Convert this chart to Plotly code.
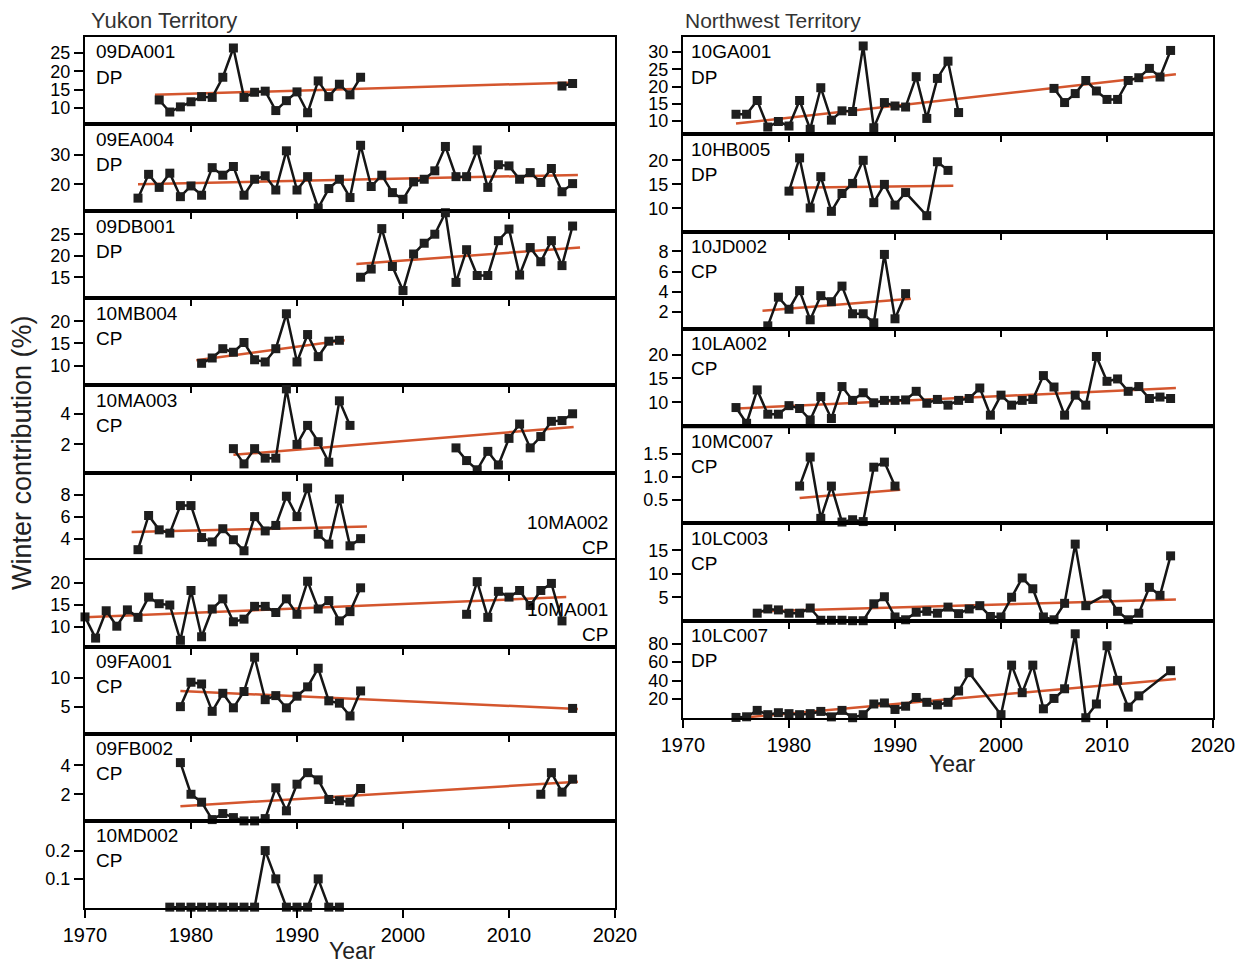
import plotly.graph_objects as go

FONT = "Liberation Sans, Arial, Helvetica, sans-serif"
W, H = 1246, 972          # target picture size
PAGE_OFF = 8              # default body margin of the html page
FW, FH = W - 2 * PAGE_OFF, H - 2 * PAGE_OFF   # figure size

# ---------------- data (None = break in the line) ----------------
yr_09DA001 = [1977, 1978, 1979, 1980, 1981, 1982, 1983, 1984, 1985, 1986, 1987, 1988, 1989, 1990,
              1991, 1992, 1993, 1994, 1995, 1996, None, 2015, 2016]
v_09DA001 = [12.2, 8.9, 10.3, 11.7, 13.1, 12.9, 18.4, 26.4, 12.9, 14.3, 14.6, 9.3, 12.0, 14.4,
             8.7, 17.4, 13.1, 16.5, 13.6, 18.4, None, 16.0, 16.7]
tr_09DA001 = ([1976.6, 2016.4], [13.6, 17.0])

yr_09EA004 = [1975, 1976, 1977, 1978, 1979, 1980, 1981, 1982, 1983, 1984, 1985, 1986, 1987, 1988,
              1989, 1990, 1991, 1992, 1993, 1994, 1995, 1996, 1997, 1998, 1999, 2000, 2001, 2002,
              2003, 2004, 2005, 2006, 2007, 2008, 2009, 2010, 2011, 2012, 2013, 2014, 2015, 2016]
v_09EA004 = [15.2, 23.4, 18.9, 23.8, 15.7, 19.4, 16.2, 25.7, 23.1, 26.1, 16.2, 21.7, 22.9, 18.0,
             31.5, 18.0, 22.6, 11.8, 18.5, 21.7, 15.4, 33.4, 19.2, 23.1, 17.1, 14.8, 20.8, 21.7,
             24.6, 33.0, 22.6, 22.6, 31.8, 18.9, 26.7, 26.3, 21.7, 24.0, 20.6, 25.4, 17.4, 20.2]
tr_09EA004 = ([1975.0, 2016.5], [20.0, 23.2])

yr_09DB001 = [1996, 1997, 1998, 1999, 2000, 2001, 2002, 2003, 2004, 2005, 2006, 2007, 2008, 2009,
              2010, 2011, 2012, 2013, 2014, 2015, 2016]
v_09DB001 = [15.0, 16.9, 26.3, 17.5, 11.9, 20.4, 22.9, 25.0, 30.0, 13.8, 21.4, 15.4, 15.4, 23.5,
             26.2, 15.5, 21.9, 18.6, 23.5, 17.7, 26.9]
tr_09DB001 = ([1995.6, 2016.7], [18.1, 21.9])

yr_10MB004 = [1981, 1982, 1983, 1984, 1985, 1986, 1987, 1988, 1989, 1990, 1991, 1992, 1993, 1994]
v_10MB004 = [10.5, 11.7, 13.8, 13.0, 15.2, 11.3, 10.8, 13.8, 21.7, 10.8, 17.0, 12.0, 15.5, 15.7]
tr_10MB004 = ([1980.5, 1994.5], [11.2, 15.7])

yr_10MA003 = [1984, 1985, 1986, 1987, 1988, 1989, 1990, 1991, 1992, 1993, 1994, 1995, None,
              2005, 2006, 2007, 2008, 2009, 2010, 2011, 2012, 2013, 2014, 2015, 2016]
v_10MA003 = [1.71, 0.70, 1.71, 1.08, 1.08, 5.67, 1.99, 3.25, 2.17, 0.81, 4.88, 3.25, None,
             1.76, 0.92, 0.31, 1.53, 0.63, 2.39, 3.34, 1.76, 2.51, 3.52, 3.57, 4.02]
tr_10MA003 = ([1984.0, 2016.1], [1.3, 3.15])

yr_10MA002 = [1975, 1976, 1977, 1978, 1979, 1980, 1981, 1982, 1983, 1984, 1985, 1986, 1987, 1988,
              1989, 1990, 1991, 1992, 1993, 1994, 1995, 1996]
v_10MA002 = [3.0, 6.1, 4.8, 4.5, 7.0, 7.0, 4.1, 3.7, 4.9, 3.9, 2.9, 6.0, 4.7, 5.2,
             7.85, 6.0, 8.6, 4.4, 3.5, 7.6, 3.35, 4.0]
tr_10MA002 = ([1974.4, 1996.6], [4.6, 5.1])

yr_10MA001 = [1970, 1971, 1972, 1973, 1974, 1975, 1976, 1977, 1978, 1979, 1980, 1981, 1982, 1983,
              1984, 1985, 1986, 1987, 1988, 1989, 1990, 1991, 1992, 1993, 1994, 1995, 1996, None,
              2006, 2007, 2008, 2009, 2010, 2011, 2012, 2013, 2014, 2015]
v_10MA001 = [12.2, 7.4, 13.6, 10.1, 13.8, 12.1, 16.7, 15.2, 14.9, 6.9, 18.2, 7.7, 14.0, 16.3,
             11.1, 11.7, 14.6, 14.6, 13.2, 16.3, 12.8, 20.3, 14.0, 15.9, 11.3, 13.4, 18.8, None,
             12.8, 20.2, 12.1, 18.0, 16.7, 18.2, 14.8, 18.2, 19.8, 11.3]
tr_10MA001 = ([1970.0, 2015.4], [12.1, 16.7])

yr_09FA001 = [1979, 1980, 1981, 1982, 1983, 1984, 1985, 1986, 1987, 1988, 1989, 1990, 1991, 1992,
              1993, 1994, 1995, 1996, None, 2016]
v_09FA001 = [5.0, 9.2, 8.9, 4.2, 7.3, 4.8, 7.6, 13.5, 6.2, 6.9, 4.8, 6.8, 8.4, 11.6,
             6.0, 5.6, 3.4, 7.7, None, 4.7]
tr_09FA001 = ([1979.0, 2016.5], [7.7, 4.6])

yr_09FB002 = [1979, 1980, 1981, 1982, 1983, 1984, 1985, 1986, 1987, 1988, 1989, 1990, 1991, 1992,
              1993, 1994, 1995, 1996, None, 2013, 2014, 2015, 2016]
v_09FB002 = [4.2, 2.0, 1.45, 0.24, 0.66, 0.38, 0.15, 0.15, 0.31, 2.45, 0.85, 2.7, 3.5, 3.0,
             1.64, 1.55, 1.45, 2.4, None, 2.0, 3.5, 2.15, 3.05]
tr_09FB002 = ([1979.0, 2016.5], [1.17, 2.87])

yr_10MD002 = [1978, 1979, 1980, 1981, 1982, 1983, 1984, 1985, 1986, 1987, 1988, 1989, 1990, 1991,
              1992, 1993, 1994]
v_10MD002 = [0, 0, 0, 0, 0, 0, 0, 0, 0, 0.2, 0.1, 0, 0, 0, 0.1, 0, 0]
tr_10MD002 = None

yr_10GA001 = [1975, 1976, 1977, 1978, 1979, 1980, 1981, 1982, 1983, 1984, 1985, 1986, 1987, 1988,
              1989, 1990, 1991, 1992, 1993, 1994, 1995, 1996, None,
              2005, 2006, 2007, 2008, 2009, 2010, 2011, 2012, 2013, 2014, 2015, 2016]
v_10GA001 = [12.0, 12.0, 16.0, 8.3, 9.9, 8.6, 16.0, 7.65, 19.7, 10.3, 13.0, 12.8, 31.8, 8.1,
             15.4, 14.4, 14.1, 22.9, 10.8, 22.4, 27.4, 12.5, None,
             19.5, 15.4, 18.0, 21.8, 18.75, 16.3, 16.3, 21.8, 22.6, 25.3, 22.8, 30.5]
tr_10GA001 = ([1975.0, 2016.5], [9.3, 23.6])

yr_10HB005 = [1980, 1981, 1982, 1983, 1984, 1985, 1986, 1987, 1988, 1989, 1990, 1991, 1993, 1994, 1995]
v_10HB005 = [13.6, 20.5, 10.1, 16.6, 9.4, 13.1, 15.2, 20.0, 11.2, 15.0, 10.7, 13.3, 8.5, 19.7, 17.9]
tr_10HB005 = ([1980.0, 1995.5], [14.3, 14.7])

yr_10JD002 = [1978, 1979, 1980, 1981, 1982, 1983, 1984, 1985, 1986, 1987, 1988, 1989, 1990, 1991]
v_10JD002 = [0.6, 3.45, 2.25, 4.1, 1.2, 3.6, 3.0, 4.55, 1.8, 1.8, 0.9, 7.7, 1.3, 3.8]
tr_10JD002 = ([1977.5, 1991.5], [2.1, 3.3])

yr_10LA002 = [1975, 1976, 1977, 1978, 1979, 1980, 1981, 1982, 1983, 1984, 1985, 1986, 1987, 1988,
              1989, 1990, 1991, 1992, 1993, 1994, 1995, 1996, 1997, 1998, 1999, 2000, 2001, 2002,
              2003, 2004, 2005, 2006, 2007, 2008, 2009, 2010, 2011, 2012, 2013, 2014, 2015, 2016]
v_10LA002 = [8.9, 5.6, 12.6, 7.5, 7.5, 9.3, 8.7, 6.3, 11.2, 6.6, 13.3, 10.4, 12.0, 9.9,
             10.4, 10.4, 10.5, 12.3, 9.8, 10.6, 9.4, 10.4, 10.8, 13.0, 7.3, 11.5, 9.4, 10.4,
             10.6, 15.6, 13.2, 7.3, 11.5, 9.4, 19.6, 14.4, 14.9, 12.3, 13.3, 10.8, 11.1, 10.8]
tr_10LA002 = ([1975.1, 2016.5], [8.7, 13.0])

yr_10MC007 = [1981, 1982, 1983, 1984, 1985, 1986, 1987, 1988, 1989, 1990]
v_10MC007 = [0.80, 1.43, 0.10, 0.80, 0.02, 0.07, 0.03, 1.21, 1.32, 0.80]
tr_10MC007 = ([1981.0, 1990.5], [0.54, 0.72])

yr_10LC003 = [1977, 1978, 1979, 1980, 1981, 1982, 1983, 1984, 1985, 1986, 1987, 1988, 1989, 1990,
              1991, 1992, 1993, 1994, 1995, 1996, 1997, 1998, 1999, 2000, 2001, 2002, 2003, 2004,
              2005, 2006, 2007, 2008, 2010, 2011, 2012, 2013, 2014, 2015, 2016]
v_10LC003 = [1.6, 2.5, 2.3, 1.6, 1.6, 2.7, 0.1, 0.1, 0.1, 0.0, 0.0, 3.6, 5.1, 0.8,
             0.2, 1.8, 2.0, 1.6, 2.9, 1.5, 2.5, 3.2, 0.9, 0.8, 5.0, 9.1, 6.8, 0.8,
             0.2, 3.7, 16.3, 3.2, 5.7, 2.0, 0.2, 1.6, 7.1, 5.4, 13.8]
tr_10LC003 = ([1977.0, 2016.5], [2.0, 4.5])

yr_10LC007 = [1975, 1976, 1977, 1978, 1979, 1980, 1981, 1982, 1983, 1984, 1985, 1986, 1987, 1988,
              1989, 1990, 1991, 1992, 1993, 1994, 1995, 1996, 1997, 2000, 2001, 2002, 2003, 2004,
              2005, 2006, 2007, 2008, 2009, 2010, 2011, 2012, 2013, 2016]
v_10LC007 = [0.3, 1.0, 7.9, 3.3, 5.4, 4.4, 3.3, 4.4, 6.8, 0.9, 7.9, 0.0, 3.3, 14.8,
             15.9, 8.9, 12.4, 21.8, 16.6, 13.8, 16.6, 28.8, 48.6, 3.3, 56.7, 27.0, 56.7, 9.6,
             20.8, 31.2, 90.5, 0.0, 14.8, 77.6, 40.3, 11.4, 23.6, 50.7]
tr_10LC007 = ([1976.0, 2016.5], [0.5, 41.7])

x_ticks_all = [1970, 1980, 1990, 2000, 2010, 2020]
x_ticks_inner = [1980, 1990, 2000, 2010]

# station, type, years, values, trend, y-range, y-ticks
left_panels = [
    ("09DA001", "DP", yr_09DA001, v_09DA001, tr_09DA001, [5.6, 29.4], [10, 15, 20, 25]),
    ("09EA004", "DP", yr_09EA004, v_09EA004, tr_09EA004, [10.7, 40.7], [20, 30]),
    ("09DB001", "DP", yr_09DB001, v_09DB001, tr_09DB001, [10.1, 30.35], [15, 20, 25]),
    ("10MB004", "CP", yr_10MB004, v_10MB004, tr_10MB004, [5.5, 25.2], [10, 15, 20]),
    ("10MA003", "CP", yr_10MA003, v_10MA003, tr_10MA003, [0.13, 5.9], [2, 4]),
    ("10MA002", "CP", yr_10MA002, v_10MA002, tr_10MA002, [2.1, 10.0], [4, 6, 8]),
    ("10MA001", "CP", yr_10MA001, v_10MA001, tr_10MA001, [5.45, 25.2], [10, 15, 20]),
    ("09FA001", "CP", yr_09FA001, v_09FA001, tr_09FA001, [0.34, 15.3], [5, 10]),
    ("09FB002", "CP", yr_09FB002, v_09FB002, tr_09FB002, [0.15, 6.2], [2, 4]),
    ("10MD002", "CP", yr_10MD002, v_10MD002, tr_10MD002, [-0.003, 0.305], [0.1, 0.2]),
]
right_panels = [
    ("10GA001", "DP", yr_10GA001, v_10GA001, tr_10GA001, [6.2, 34.4], [10, 15, 20, 25, 30]),
    ("10HB005", "DP", yr_10HB005, v_10HB005, tr_10HB005, [5.2, 25.4], [10, 15, 20]),
    ("10JD002", "CP", yr_10JD002, v_10JD002, tr_10JD002, [0.3, 9.97], [2, 4, 6, 8]),
    ("10LA002", "CP", yr_10LA002, v_10LA002, tr_10LA002, [5.0, 25.4], [10, 15, 20]),
    ("10MC007", "CP", yr_10MC007, v_10MC007, tr_10MC007, [-0.01, 2.1], [0.5, 1.0, 1.5]),
    ("10LC003", "CP", yr_10LC003, v_10LC003, tr_10LC003, [0.0, 20.7], [5, 10, 15]),
    ("10LC007", "DP", yr_10LC007, v_10LC007, tr_10LC007, [-0.3, 104.6], [20, 40, 60, 80]),
]
right_aligned_labels = {"10MA002", "10MA001"}

# ---------------- layout geometry (target pixels) ----------------
LX0, LX1, LTOP, LBOT = 85.0, 615.0, 37.0, 908.0
RX0, RX1, RTOP, RBOT = 683.0, 1213.0, 37.0, 718.0

fig = go.Figure()
layout = {}
annotations = []
shapes = []


def px_x(p):
    return (p - PAGE_OFF) / FW


def px_y(p):
    return 1 - (p - PAGE_OFF) / FH


def add_column(panels, x0, x1, top, bot, n_offset, label_dx):
    n = len(panels)
    h = (bot - top) / n
    for i, (sid, kind, xs, ys, tr, yrange, yticks) in enumerate(panels):
        k = n_offset + i + 1
        xa = "x" if k == 1 else f"x{k}"
        ya = "y" if k == 1 else f"y{k}"
        ptop = top + i * h
        pbot = ptop + h
        last = (i == n - 1)
        layout["xaxis" if k == 1 else f"xaxis{k}"] = dict(
            domain=[px_x(x0), px_x(x1)], anchor=ya, range=[1970, 2020],
            showline=True, mirror=True, linecolor="black", linewidth=2,
            showgrid=False, zeroline=False, automargin=False,
            ticks="outside", tickwidth=2, tickcolor="black",
            ticklen=8 if last else 6,
            tickvals=x_ticks_all if last else x_ticks_inner,
            showticklabels=last,
            tickfont=dict(size=20, color="black", family=FONT),
        )
        layout["yaxis" if k == 1 else f"yaxis{k}"] = dict(
            domain=[px_y(pbot), px_y(ptop)], anchor=xa, range=yrange,
            showline=True, mirror=True, linecolor="black", linewidth=2,
            showgrid=False, zeroline=False, automargin=False,
            ticks="outside", tickwidth=2, tickcolor="black", ticklen=9,
            tickvals=yticks,
            tickformat=".1f" if sid in ("10MC007", "10MD002") else "",
            tickfont=dict(size=18, color="black", family=FONT),
        )
        if tr is not None:
            fig.add_trace(go.Scatter(
                x=tr[0], y=tr[1], mode="lines", xaxis=xa, yaxis=ya,
                line=dict(color="#d4562e", width=2.5), hoverinfo="skip"))
        fig.add_trace(go.Scatter(
            x=xs, y=ys, mode="lines+markers", xaxis=xa, yaxis=ya, cliponaxis=False,
            line=dict(color="#151515", width=2.5),
            marker=dict(symbol="square", size=9, color="#1e1e1e"), name=sid))
        if sid in right_aligned_labels:
            for j, t in enumerate([sid, kind]):
                annotations.append(dict(
                    text=t, xref="paper", yref="paper", x=px_x(x1 - 5), y=px_y(ptop + 50 + 25 * j),
                    xanchor="right", yanchor="middle", showarrow=False,
                    font=dict(size=19, color="black", family=FONT)))
        else:
            for j, t in enumerate([sid, kind]):
                annotations.append(dict(
                    text=t, xref="paper", yref="paper", x=px_x(x0 + label_dx),
                    y=px_y(ptop + 15 + 25 * j),
                    xanchor="left", yanchor="middle", showarrow=False,
                    font=dict(size=19, color="black", family=FONT)))
    return h


add_column(left_panels, LX0, LX1, LTOP, LBOT, 0, 9)
rh = add_column(right_panels, RX0, RX1, RTOP, RBOT, len(left_panels), 6)

# the heavier separator between 10LA002 and 10MC007
yb = RTOP + 4 * rh
shapes.append(dict(type="line", xref="paper", yref="paper",
                   x0=px_x(RX0), x1=px_x(RX1), y0=px_y(yb), y1=px_y(yb),
                   line=dict(color="black", width=4)))

# titles
annotations += [
    dict(text="Yukon Territory", xref="paper", yref="paper", x=px_x(89), y=px_y(21),
         xanchor="left", yanchor="middle", showarrow=False,
         font=dict(size=22, color="#333333", family=FONT)),
    dict(text="Northwest Territory", xref="paper", yref="paper", x=px_x(683), y=px_y(21),
         xanchor="left", yanchor="middle", showarrow=False,
         font=dict(size=21, color="#333333", family=FONT)),
    dict(text="Year", xref="paper", yref="paper", x=px_x(352), y=px_y(951),
         xanchor="center", yanchor="middle", showarrow=False,
         font=dict(size=23, color="#222222", family=FONT)),
    dict(text="Year", xref="paper", yref="paper", x=px_x(952), y=px_y(764),
         xanchor="center", yanchor="middle", showarrow=False,
         font=dict(size=23, color="#222222", family=FONT)),
    dict(text="Winter contribution (%)", xref="paper", yref="paper", x=px_x(22), y=px_y(453),
         xanchor="center", yanchor="middle", showarrow=False, textangle=-90,
         font=dict(size=27, color="#222222", family=FONT)),
]

fig.update_layout(
    width=FW, height=FH, margin=dict(l=0, r=0, t=0, b=0, autoexpand=False),
    plot_bgcolor="white", paper_bgcolor="white", showlegend=False,
    font=dict(family=FONT, color="black"),
    annotations=annotations, shapes=shapes, **layout)

fig.write_html("out.html")
